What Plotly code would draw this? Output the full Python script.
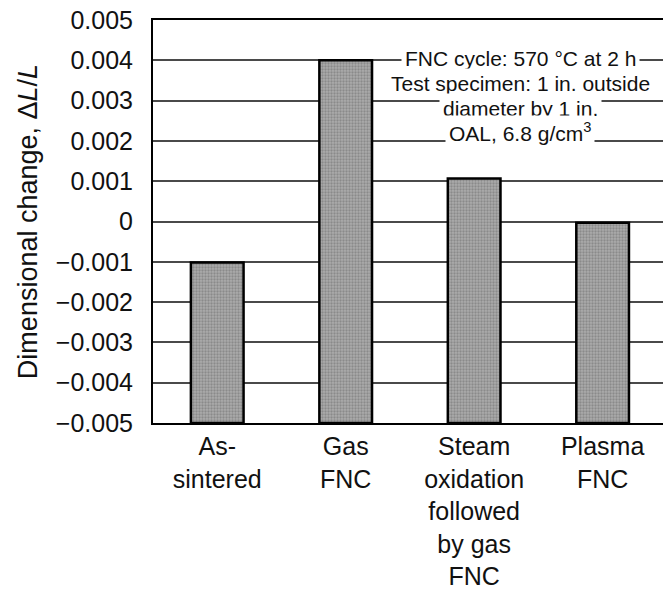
import plotly.graph_objects as go

categories = ["As-<br>sintered", "Gas<br>FNC", "Steam<br>oxidation<br>followed<br>by gas<br>FNC", "Plasma<br>FNC"]
values = [-0.00102, 0.00400, 0.00107, -0.00003]
y_min, y_max = -0.005, 0.005
tick_vals = [-0.005, -0.004, -0.003, -0.002, -0.001, 0, 0.001, 0.002, 0.003, 0.004, 0.005]
tick_text = ["\u22120.005", "\u22120.004", "\u22120.003", "\u22120.002", "\u22120.001", "0",
             "0.001", "0.002", "0.003", "0.004", "0.005"]
note_lines = ["FNC cycle: 570 \u00b0C at 2 h", "Test specimen: 1 in. outside",
              "diameter by 1 in.", "OAL, 6.8 g/cm<sup>3</sup>"]

FONT = "Liberation Sans, Arial, Helvetica, sans-serif"
L, T, W, H = 153, 20, 510, 403

fig = go.Figure()
fig.add_trace(go.Bar(
    x=list(range(len(categories))),
    y=[v - y_min for v in values],
    base=y_min,
    width=0.41,
    marker=dict(
        color="#a8a8a8",
        line=dict(color="black", width=2.5),
        pattern=dict(shape=".", bgcolor="#ababab", fgcolor="#6a6a6a", size=3, solidity=0.45),
    ),
    showlegend=False,
))

note_y_px = [58, 83, 108, 132]
for line, ypx in zip(note_lines, note_y_px):
    fig.add_annotation(
        x=(520 - L) / W, y=1 - (ypx - T) / H, xref="paper", yref="paper",
        xanchor="center", yanchor="middle",
        text=line, showarrow=False,
        font=dict(family=FONT, size=21, color="#111"),
        bgcolor="white", borderpad=3,
    )

fig.update_layout(
    width=663, height=589,
    margin=dict(l=L, r=663 - L - W, t=T, b=589 - T - H, autoexpand=False),
    plot_bgcolor="white", paper_bgcolor="white",
    font=dict(family=FONT, size=24, color="#111"),
    xaxis=dict(
        range=[-0.5, 3.47], automargin=False,
        tickmode="array", tickvals=list(range(len(categories))), ticktext=categories,
        showgrid=False, showline=True, linecolor="black", linewidth=2, mirror=True,
        ticks="", tickfont=dict(size=25), ticklabelstandoff=0,
    ),
    yaxis=dict(
        range=[y_min, y_max], automargin=False,
        tickmode="array", tickvals=tick_vals, ticktext=tick_text,
        showgrid=True, gridcolor="#4a4a4a", gridwidth=1.5,
        zeroline=False,
        showline=True, linecolor="black", linewidth=2,
        ticks="", tickfont=dict(size=25), ticklabelstandoff=13,
        title=dict(text="Dimensional change, \u0394<i>L</i>/<i>L</i>", font=dict(size=27), standoff=10),
    ),
)

fig.write_html("out.html", config={"displayModeBar": False},
               post_script="document.body.style.margin='0px';document.body.style.overflow='hidden';")
